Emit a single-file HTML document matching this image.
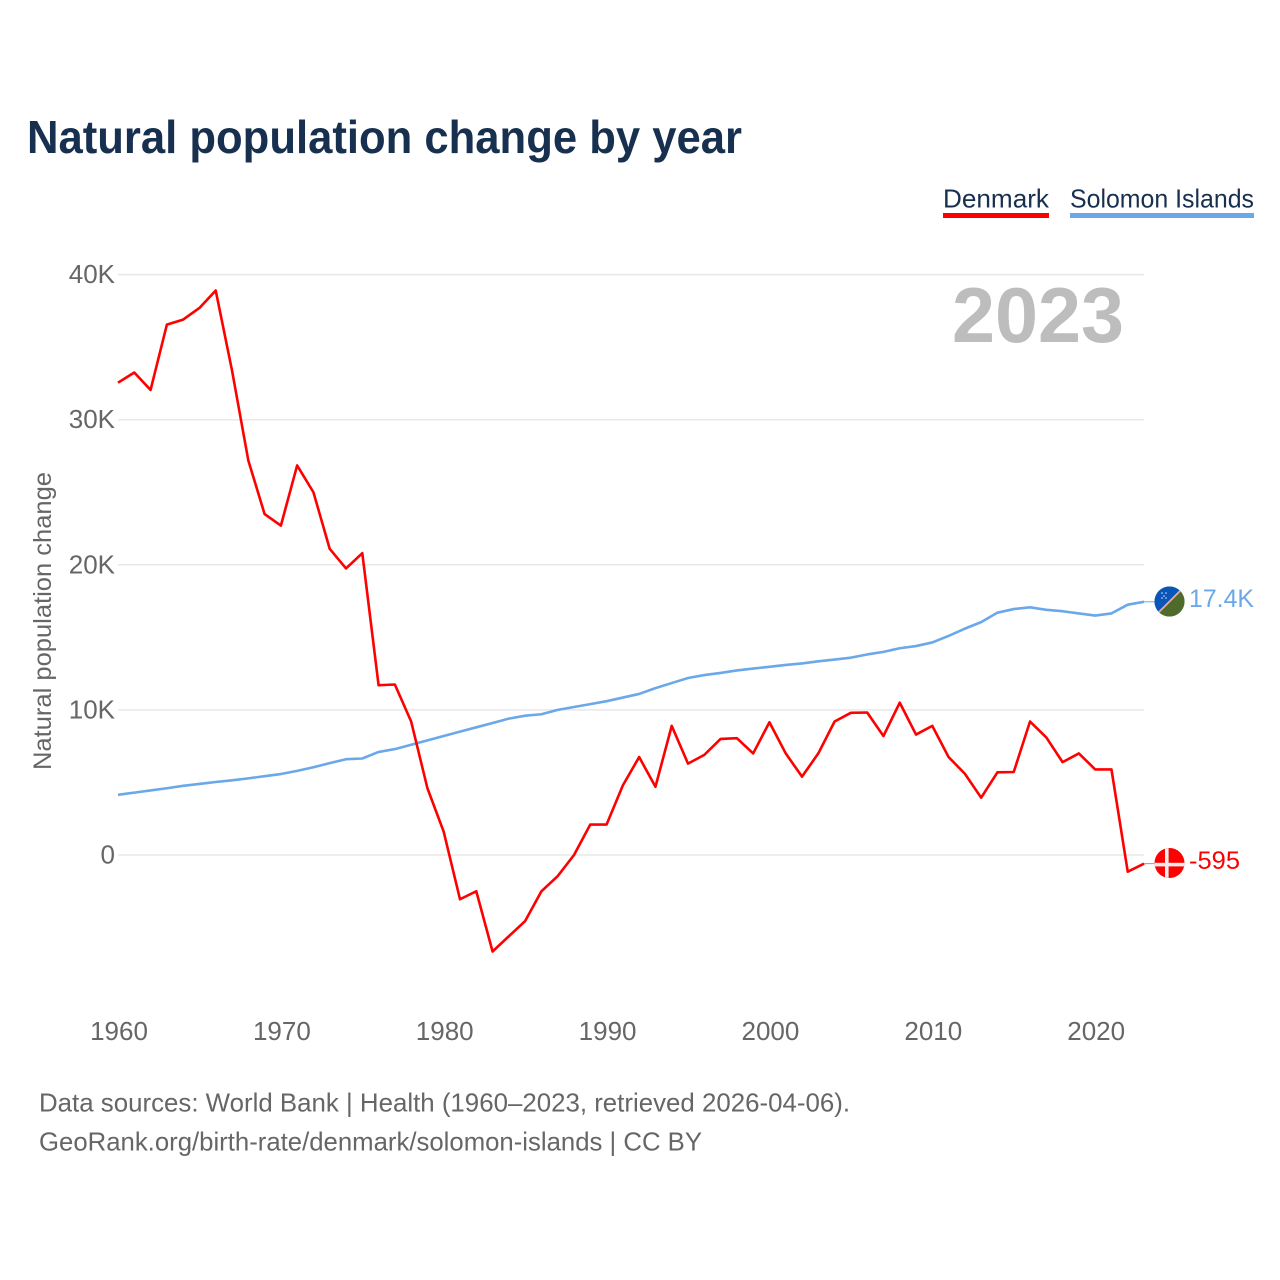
<!DOCTYPE html>
<html>
<head>
<meta charset="utf-8">
<title>Natural population change by year</title>
<style>
html,body{margin:0;padding:0;background:#fff;}
svg{display:block;font-family:"Liberation Sans",sans-serif;}
</style>
</head>
<body>
<svg id="chart" width="1280" height="1280" viewBox="0 0 1280 1280">
  <defs>
    <clipPath id="clip-sb"><circle cx="1169.5" cy="601.5" r="15"/></clipPath>
    <clipPath id="clip-dk"><circle cx="1169.5" cy="863" r="15"/></clipPath>
  </defs>
  <rect x="0" y="0" width="1280" height="1280" fill="#fff"/>
  <text x="27" y="153" font-size="46" font-weight="700" fill="#18304f" textLength="715" lengthAdjust="spacingAndGlyphs">Natural population change by year</text>

  <g>
    <text x="943" y="207.5" font-size="26" fill="#18304f" textLength="106" lengthAdjust="spacingAndGlyphs">Denmark</text>
    <rect x="943" y="213" width="106" height="5" fill="#ff0000"/>
  </g>
  <g>
    <text x="1070" y="207.5" font-size="26" fill="#18304f" textLength="184" lengthAdjust="spacingAndGlyphs">Solomon Islands</text>
    <rect x="1070" y="213" width="184" height="5" fill="#6aa8ea"/>
  </g>

  <g id="grid"></g>
  <g id="yticks"></g>
  <g id="xticks"></g>

  <text transform="translate(51 621) rotate(-90)" text-anchor="middle" font-size="25" fill="#666" textLength="298" lengthAdjust="spacingAndGlyphs">Natural population change</text>

  <text x="1124" y="342" text-anchor="end" font-size="78" font-weight="700" fill="#bdbdbd" textLength="172" lengthAdjust="spacingAndGlyphs">2023</text>

  <g id="series"></g>

  <g clip-path="url(#clip-sb)">
    <rect x="1154" y="586" width="31" height="31" fill="#215b33"/>
    <polygon points="1154,617 1185,586 1154,586" fill="#0a55b8"/>
    <polygon points="1154,617 1185,586 1185,617" fill="#4f6b2c"/>
    <line x1="1157" y1="614" x2="1182" y2="589" stroke="#f2a59b" stroke-width="1.8"/>
    <g fill="#cfe0f5">
      <circle cx="1162" cy="593" r="0.8"/><circle cx="1166" cy="593" r="0.8"/>
      <circle cx="1164" cy="596" r="0.8"/><circle cx="1162" cy="598" r="0.8"/><circle cx="1166" cy="598" r="0.8"/>
    </g>
  </g>
  <text x="1189" y="607" font-size="25" fill="#6aa8ea" textLength="65" lengthAdjust="spacingAndGlyphs">17.4K</text>

  <g clip-path="url(#clip-dk)">
    <rect x="1154" y="848" width="31" height="30" fill="#ff0000"/>
    <rect x="1165" y="848" width="3.6" height="30" fill="#ececec"/>
    <rect x="1154" y="862.8" width="31" height="3.6" fill="#ececec"/>
  </g>
  <text x="1189" y="869" font-size="25" fill="#ff0000" textLength="51" lengthAdjust="spacingAndGlyphs">-595</text>

  <text x="39" y="1111.5" font-size="26" fill="#666" textLength="811" lengthAdjust="spacingAndGlyphs">Data sources: World Bank | Health (1960–2023, retrieved 2026-04-06).</text>
  <text x="39" y="1150.5" font-size="26" fill="#666" textLength="663" lengthAdjust="spacingAndGlyphs">GeoRank.org/birth-rate/denmark/solomon-islands | CC BY</text>
</svg>
<script>
const startYear = 1960;
const denmarkValues = [32.55,33.25,32.05,36.55,36.9,37.7,38.9,33.4,27.2,23.5,22.7,26.85,25.0,21.1,19.75,20.8,11.7,11.75,9.2,4.6,1.6,-3.05,-2.5,-6.65,-5.6,-4.55,-2.5,-1.45,0,2.1,2.1,4.8,6.75,4.7,8.9,6.3,6.9,8.0,8.05,7.0,9.15,7.0,5.4,7.0,9.2,9.8,9.82,8.2,10.5,8.3,8.9,6.75,5.6,3.95,5.7,5.72,9.2,8.1,6.4,7.0,5.9,5.9,-1.15,-0.595];
const solomonValues = [4.15,4.3,4.45,4.6,4.77,4.9,5.03,5.15,5.28,5.43,5.58,5.8,6.05,6.33,6.6,6.65,7.1,7.3,7.6,7.9,8.2,8.5,8.8,9.1,9.4,9.6,9.7,10.0,10.2,10.4,10.6,10.85,11.1,11.5,11.85,12.2,12.4,12.55,12.72,12.85,12.97,13.1,13.2,13.35,13.47,13.6,13.82,14.0,14.25,14.4,14.65,15.1,15.6,16.05,16.7,16.95,17.07,16.9,16.8,16.65,16.5,16.65,17.25,17.45];
const yTickValues = [0,10,20,30,40];
const yTickLabels = ["0","10K","20K","30K","40K"];
const xTickYears = [1960,1970,1980,1990,2000,2010,2020];

const NS = "http://www.w3.org/2000/svg";
function xScale(year){ return 118 + (year - 1960) * 16.286; }
function yScale(v){ return 855 - v * 14.51; }
function make(tag, attrs, parent, text){
  const el = document.createElementNS(NS, tag);
  for (const k in attrs) el.setAttribute(k, attrs[k]);
  if (text !== undefined) el.textContent = text;
  parent.appendChild(el);
  return el;
}

const grid = document.getElementById("grid");
const yticks = document.getElementById("yticks");
const xticks = document.getElementById("xticks");
const series = document.getElementById("series");

yTickValues.forEach(function(v, i){
  const line = make("line", {x1:118, x2:1144, y1:yScale(v), y2:yScale(v), stroke:"#e8e8ea", "stroke-width":1.5}, grid);
  
  
  const label = make("text", {x:115, y:yScale(v)+8.5, "text-anchor":"end", "font-size":26, fill:"#666"}, yticks, yTickLabels[i]);
  
  
});

xTickYears.forEach(function(year){
  const label = make("text", {x:xScale(year)+1, y:1040, "text-anchor":"middle", "font-size":26, fill:"#666"}, xticks, String(year));
  
  
});

function pointsOf(values){
  return values.map(function(v, i){ return xScale(startYear + i).toFixed(2) + "," + yScale(v).toFixed(2); }).join(" ");
}

const solomonLast = solomonValues[solomonValues.length - 1];
const denmarkLast = denmarkValues[denmarkValues.length - 1];
const lastYear = startYear + solomonValues.length - 1;

const connA = make("line", {x1:xScale(lastYear), x2:1156, y1:yScale(solomonLast), y2:yScale(solomonLast), stroke:"#6aa8ea", "stroke-width":1}, series);


const connB = make("line", {x1:xScale(lastYear), x2:1156, y1:yScale(denmarkLast), y2:yScale(denmarkLast), stroke:"#999", "stroke-width":1}, series);



const lineSb = make("polyline", {points:pointsOf(solomonValues), fill:"none", stroke:"#6aa8ea", "stroke-width":2.6, "stroke-linejoin":"round"}, series);


const lineDk = make("polyline", {points:pointsOf(denmarkValues), fill:"none", stroke:"#ff0000", "stroke-width":2.6, "stroke-linejoin":"round"}, series);


</script>
</body>
</html>
